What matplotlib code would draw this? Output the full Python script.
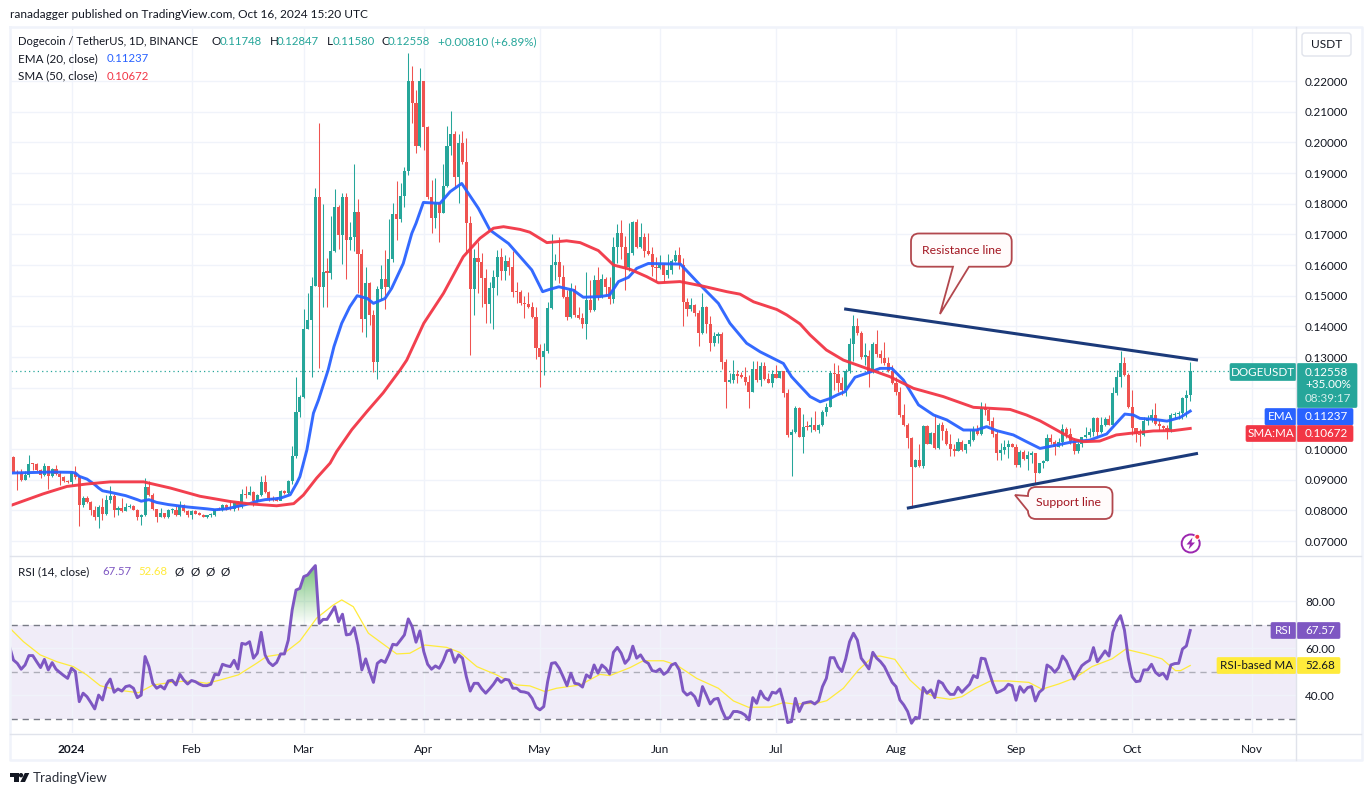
import numpy as np
import matplotlib
matplotlib.use("Agg")
import matplotlib.pyplot as plt
from matplotlib.patches import Polygon, PathPatch, FancyBboxPatch, Circle
from matplotlib.path import Path

plt.rcParams["font.family"] = "Lato"

# ---------------------------
# Data (first candle = 2023-12-17, day -15 from Jan 1)
# ---------------------------
FIRST_DAY = -15
FIRST_OPEN = 0.0973

closes = [
    .0925, .0921, .0900, .0916, .0952, .0951, .0932, .0914, .0945, .0911, .0936, .0918, .0909, .0897, .0893,
    .0922, .0908, .0818, .0840, .0826, .0802, .0780, .0811, .0789, .0833, .0846, .0800, .0809, .0798, .0811,
    .0815, .0802, .0780, .0786, .0876, .0850, .0804, .0780, .0791, .0777, .0800, .0802, .0786, .0818, .0797,
    .0786, .0797, .0789, .0786, .0780, .0785, .0786, .0804, .0802, .0817, .0808, .0804, .0827, .0811, .0854,
    .0851, .0861, .0830, .0850, .0893, .0859, .0840, .0835, .0832, .0862, .0856, .0895, .0976, .1120, .1171,
    .1393, .1421, .1533, .1823, .1529, .1576, .1575, .1646, .1790, .1698, .1821, .1681, .1692, .1772, .1635,
    .1423, .1543, .1437, .1285, .1521, .1554, .1527, .1619, .1766, .1751, .1825, .1906, .2200, .2129, .1989,
    .2200, .2049, .1823, .1752, .1801, .1771, .1858, .1988, .2027, .1888, .1999, .1937, .1738, .1523, .1622,
    .1611, .1559, .1473, .1524, .1562, .1627, .1582, .1614, .1594, .1513, .1511, .1475, .1473, .1462, .1431,
    .1330, .1301, .1320, .1459, .1600, .1611, .1560, .1497, .1432, .1521, .1437, .1426, .1408, .1486, .1453,
    .1551, .1495, .1553, .1529, .1488, .1660, .1703, .1660, .1592, .1638, .1741, .1658, .1692, .1647, .1636,
    .1592, .1589, .1600, .1567, .1584, .1612, .1633, .1600, .1480, .1457, .1469, .1445, .1377, .1462, .1408,
    .1345, .1369, .1374, .1283, .1220, .1224, .1245, .1239, .1236, .1220, .1187, .1260, .1225, .1271, .1228,
    .1216, .1245, .1232, .1254, .1184, .1046, .1054, .1135, .1040, .1073, .1072, .1078, .1062, .1078, .1122,
    .1138, .1249, .1245, .1214, .1192, .1255, .1342, .1401, .1377, .1301, .1303, .1252, .1342, .1310, .1296,
    .1279, .1255, .1216, .1187, .1111, .1078, .1035, .0942, .0964, .0946, .1075, .1018, .1051, .1002, .1078,
    .1060, .1018, .0999, .0995, .1024, .0997, .1015, .1029, .1062, .1049, .1133, .1127, .1092, .1049, .0988,
    .0997, .1006, .1018, .1008, .0948, .0991, .0966, .0980, .0986, .0923, .0953, .0961, .1035, .1024, .1008,
    .1024, .1065, .1049, .1026, .0995, .1018, .1038, .1046, .1057, .1100, .1057, .1078, .1097, .1080, .1182,
    .1234, .1282, .1241, .1138, .1067, .1049, .1046, .1092, .1100, .1111, .1082, .1075, .1067, .1062, .1111,
    .1114, .1116, .1165, .11748, .12558,
]
highs = [
    .0978, .0931, .0935, .0927, .0981, .0955, .0955, .0935, .0954, .0946, .0938, .0949, .0927, .0913, .0900,
    .0924, .0946, .0916, .0846, .0848, .0829, .0815, .0817, .0840, .0851, .0880, .0854, .0815, .0840, .0824,
    .0822, .0817, .0806, .0788, .0905, .0895, .0856, .0806, .0808, .0793, .0804, .0808, .0813, .0830, .0821,
    .0802, .0802, .0800, .0796, .0789, .0786, .0791, .0806, .0811, .0820, .0822, .0833, .0829, .0829, .0870,
    .0880, .0880, .0863, .0852, .0911, .0916, .0864, .0848, .0843, .0865, .0865, .0900, .1009, .1236, .1175,
    .1457, .1508, .1562, .1850, .2062, .1799, .1622, .1760, .1848, .1796, .1834, .1834, .1741, .1929, .1814,
    .1651, .1592, .1546, .1453, .1532, .1600, .1649, .1750, .1801, .1874, .1869, .1921, .2290, .2249, .2171,
    .2241, .2200, .2053, .1877, .1883, .1806, .1929, .2053, .2102, .2038, .2027, .2037, .2013, .1760, .1651,
    .1676, .1638, .1586, .1546, .1584, .1649, .1657, .1633, .1627, .1647, .1546, .1518, .1499, .1513, .1480,
    .1464, .1342, .1345, .1480, .1701, .1636, .1690, .1600, .1518, .1540, .1535, .1462, .1443, .1576, .1551,
    .1568, .1592, .1571, .1562, .1562, .1692, .1734, .1747, .1695, .1736, .1745, .1750, .1736, .1703, .1706,
    .1660, .1627, .1633, .1608, .1636, .1618, .1649, .1658, .1622, .1491, .1491, .1472, .1453, .1508, .1466,
    .1434, .1383, .1383, .1383, .1292, .1247, .1290, .1258, .1252, .1268, .1241, .1288, .1288, .1285, .1285,
    .1247, .1258, .1274, .1256, .1254, .1195, .1064, .1140, .1136, .1114, .1092, .1103, .1124, .1081, .1127,
    .1149, .1256, .1279, .1274, .1236, .1260, .1361, .1437, .1426, .1386, .1345, .1323, .1350, .1388, .1323,
    .1350, .1301, .1274, .1234, .1201, .1147, .1084, .1038, .0966, .1018, .1078, .1078, .1057, .1111, .1086,
    .1089, .1067, .1049, .1018, .1035, .1029, .1018, .1062, .1075, .1078, .1152, .1149, .1133, .1106, .1062,
    .1021, .1029, .1029, .1021, .1018, .0997, .0997, .0994, .0994, .0986, .0955, .0964, .1048, .1048, .1029,
    .1035, .1081, .1073, .1067, .1035, .1024, .1040, .1073, .1067, .1103, .1103, .1103, .1105, .1111, .1203,
    .1258, .1321, .1301, .1247, .1192, .1067, .1064, .1103, .1111, .1130, .1151, .1095, .1080, .1080, .1116,
    .1122, .1125, .1171, .1192, .12847,
]
lows = [
    .0925, .0865, .0895, .0898, .0909, .0932, .0930, .0905, .0913, .0871, .0909, .0916, .0884, .0893, .0889,
    .0884, .0902, .0750, .0811, .0824, .0784, .0769, .0741, .0769, .0786, .0824, .0780, .0786, .0796, .0798,
    .0809, .0800, .0769, .0751, .0783, .0848, .0802, .0761, .0778, .0775, .0775, .0791, .0783, .0783, .0795,
    .0780, .0773, .0787, .0784, .0778, .0775, .0780, .0783, .0801, .0797, .0802, .0802, .0797, .0800, .0808,
    .0840, .0850, .0815, .0828, .0848, .0856, .0829, .0832, .0829, .0835, .0852, .0854, .0887, .0970, .1105,
    .1168, .1392, .1236, .1533, .1263, .1462, .1464, .1556, .1642, .1652, .1603, .1553, .1649, .1647, .1508,
    .1383, .1366, .1403, .1252, .1227, .1486, .1455, .1524, .1611, .1681, .1741, .1790, .1893, .2064, .1964,
    .1986, .1975, .1814, .1703, .1722, .1676, .1769, .1855, .1959, .1855, .1803, .1931, .1638, .1306, .1437,
    .1508, .1464, .1412, .1410, .1392, .1502, .1551, .1551, .1567, .1497, .1475, .1469, .1426, .1459, .1426,
    .1292, .1203, .1241, .1312, .1457, .1551, .1542, .1491, .1421, .1426, .1432, .1423, .1394, .1359, .1448,
    .1451, .1486, .1491, .1502, .1473, .1475, .1605, .1619, .1518, .1582, .1633, .1654, .1654, .1625, .1633,
    .1564, .1549, .1587, .1546, .1559, .1571, .1609, .1587, .1401, .1434, .1451, .1434, .1336, .1374, .1377,
    .1321, .1336, .1347, .1260, .1135, .1216, .1216, .1216, .1231, .1209, .1135, .1185, .1220, .1207, .1225,
    .1214, .1203, .1231, .1231, .1171, .1040, .0912, .1051, .1038, .0988, .1062, .1057, .1060, .1051, .1075,
    .1109, .1136, .1192, .1187, .1176, .1173, .1247, .1288, .1372, .1292, .1274, .1201, .1247, .1299, .1282,
    .1274, .1252, .1212, .1176, .1103, .1075, .1002, .0807, .0940, .0942, .0937, .1016, .1016, .0999, .1000,
    .1029, .1013, .0977, .0977, .0994, .0994, .0988, .1010, .1026, .1046, .1046, .1111, .1078, .1040, .0964,
    .0964, .0984, .0970, .1006, .0940, .0942, .0964, .0931, .0953, .0888, .0921, .0937, .0961, .1018, .0980,
    .1006, .1010, .1035, .1018, .0984, .0988, .1008, .1035, .1040, .1042, .1042, .1053, .1076, .1078, .1071,
    .1176, .1203, .1239, .1133, .1046, .1024, .1011, .1042, .1078, .1089, .1079, .1062, .1062, .1032, .1057,
    .1100, .1097, .1097, .1103, .1158,
]

ema_days = [-15, -5, 0, 1, 2, 4, 6, 7, 8, 10, 14, 17, 18, 20, 22, 25, 30, 35, 37, 40, 44, 46, 48, 50, 52, 54,
            56.5, 58.2, 59, 60.8, 62.5, 63.8, 66.3, 67.8, 69.8, 71.9, 73.8, 76.4, 78, 81, 82.7, 85.7, 87.9, 89, 90.9,
            95.2, 97.8, 100.8, 102.5, 105.1, 108.1, 112.9, 115.9, 118.9, 121.7, 123.6, 125.9, 129.6, 132.2, 136.5,
            139, 141.3, 143.9, 146, 149, 157.3, 162, 167.1, 170.1, 174.4, 177.9, 183.9, 186, 188.2, 190.8, 193.4,
            196, 197.7, 199.8, 202.4, 205.4, 208.9, 211.9, 214.9, 218.8, 222.7, 226.1, 230.4, 233.8, 236.4, 239,
            243.3, 246.7, 250.2, 254.5, 258.8, 263, 267.4, 269.9, 272.1, 274.3, 276, 279.5, 283, 286.4, 289]
ema_vals = [.0922, .0925, .0924, .0922, .0911, .0902, .0884, .0873, .0864, .0859, .0848, .0835, .0830, .0835,
            .0826, .0819, .0811, .0805, .0802, .0805, .0816, .0822, .0830, .0835, .0837, .0840, .0851, .0889,
            .0910, .0997, .1117, .1160, .1258, .1334, .1410, .1464, .1500, .1491, .1475, .1491, .1524, .1605, .1703,
            .1736, .1804, .1801, .1839, .1866, .1834, .1785, .1714, .1670, .1627, .1584, .1513, .1521, .1529,
            .1518, .1495, .1497, .1502, .1546, .1560, .1589, .1605, .1603, .1540, .1475, .1410, .1345, .1317,
            .1279, .1236, .1206, .1171, .1154, .1165, .1176, .1187, .1234, .1247, .1263, .1263, .1225, .1144,
            .1111, .1095, .1062, .1062, .1073, .1060, .1046, .1024, .1002, .1013, .1024, .1029, .1049, .1084,
            .1114, .1111, .1100, .1097, .1091, .1103, .11237]

sma_days = [-15.7, -7.3, -1.2, 3.9, 10, 18.6, 25.5, 33.2, 41, 46.2, 53, 57.4, 59.9, 63.3, 66.8, 68.5, 72.4, 76.3, 80.5,
            84.9, 86.6, 91, 96.1, 101.2, 105.5, 109, 111.6, 115.9, 118.4, 122.8, 127.9, 131.4, 136.1, 140, 144.3, 148.6,
            151.6, 157.2, 162.8, 169.3, 172.7, 176.2, 182.2, 184.8, 188.2, 190.8, 195, 199.4, 205.4, 211.4, 217.5,
            225.2, 233, 242.5, 246.7, 250.2, 254.5, 258.8, 261.3, 265.6, 269.9, 273.3, 279.5, 284.6, 289]
sma_vals = [.0816, .0854, .0878, .0886, .0893, .0893, .0873, .0846, .0829, .0821, .0815, .0822, .0850, .0905,
            .0954, .0992, .1063, .1122, .1183, .1258, .1290, .1410, .1508, .1627, .1687, .1720, .1725, .1716, .1707, .1673,
            .1679, .1673, .1647, .1600, .1586, .1562, .1542, .1546, .1532, .1513, .1505, .1480, .1455, .1437,
            .1408, .1372, .1323, .1290, .1263, .1236, .1198, .1171, .1136, .1129, .1111, .1092, .1062, .1032,
            .1024, .1026, .1046, .1051, .1059, .1060, .10672]

rsi_vals = [
    60.7, 55.0, 53.6, 51.1, 52.9, 56.9, 56.9, 54.3, 51.8, 55.3, 50.8, 53.9, 51.1, 49.7, 48.4, 47.2,
    51.5, 50.1, 37.3, 40.9, 39.4, 36.9, 34.2, 40.1, 38.0, 44.4, 46.9, 41.3, 42.7, 41.8, 43.7, 44.1, 43.0, 39.0, 40.1,
    56.5, 52.2, 45.1, 43.0, 44.0, 42.7, 46.1, 46.4, 44.4, 48.9, 46.5, 44.8, 46.3, 45.8, 44.8, 44.1, 44.1, 44.7, 48.9,
    48.7, 53.2, 52.6, 52.2, 54.9, 51.2, 62.1, 61.7, 62.8, 55.8, 57.9, 66.8, 57.2, 54.0, 52.6, 54.0, 57.6, 57.6, 63.5,
    76.3, 84.8, 85.5, 90.5, 91.2, 93.3, 95.2, 70.6, 72.3, 72.3, 74.9, 77.7, 71.3, 74.5, 65.7, 66.0, 68.8, 61.4, 50.8,
    55.5, 50.1, 45.5, 53.6, 54.9, 54.0, 57.5, 61.7, 61.4, 63.5, 65.7, 72.5, 69.2, 62.6, 67.4, 58.6, 53.2, 51.1, 52.5,
    51.5, 54.6, 58.9, 59.3, 54.0, 57.2, 55.8, 47.9, 41.8, 45.1, 45.1, 42.7, 40.9, 42.7, 44.7, 47.2, 45.5, 46.8, 46.5,
    43.0, 43.0, 41.6, 41.4, 40.9, 38.7, 34.9, 33.8, 35.2, 45.8, 53.6, 53.9, 51.5, 47.9, 44.1, 49.4, 45.1, 44.8, 43.5,
    48.7, 47.5, 52.9, 49.4, 52.9, 51.5, 49.1, 58.3, 60.4, 57.9, 53.6, 55.5, 60.9, 55.8, 57.2, 54.6, 53.6, 50.5, 50.1,
    51.2, 48.9, 50.1, 52.9, 53.6, 50.8, 41.8, 40.1, 41.1, 39.4, 35.6, 43.7, 40.1, 36.3, 38.3, 38.7, 33.8, 30.2, 30.5,
    33.1, 33.1, 32.6, 31.6, 29.5, 39.0, 36.6, 41.8, 39.0, 38.0, 41.3, 40.9, 42.7, 36.6, 28.4, 28.8, 38.7, 33.1, 36.6,
    37.0, 37.3, 36.3, 37.7, 43.7, 47.2, 56.0, 56.0, 52.2, 50.1, 55.5, 62.8, 66.4, 63.5, 55.8, 53.6, 51.2, 58.3, 55.8,
    54.3, 52.2, 48.9, 45.5, 43.7, 38.0, 35.9, 33.1, 28.1, 30.6, 30.2, 43.3, 40.9, 42.3, 39.0, 46.1, 45.1, 42.3, 40.4,
    40.4, 43.4, 41.3, 43.0, 44.7, 48.4, 47.5, 55.8, 55.5, 50.1, 45.1, 41.1, 41.8, 42.7, 44.7, 44.1, 37.9, 43.7, 41.3,
    43.3, 43.7, 37.6, 41.3, 42.7, 52.9, 51.8, 49.8, 51.8, 56.7, 54.6, 50.8, 46.9, 49.8, 52.6, 53.9, 54.9, 60.3, 54.3,
    56.5, 58.9, 56.7, 66.8, 71.3, 73.9, 67.8, 55.8, 47.9, 45.8, 46.1, 50.8, 50.8, 53.2, 49.8, 48.4, 49.4, 46.9, 52.9,
    53.5, 53.6, 59.7, 61.0, 67.57,
]

rma_days = [-15.7, -12.4, -8.1, -3.8, 0.5, 3.9, 7.4, 11.7, 17.3, 21.1, 27.2, 31, 34.9, 38.4, 43.1, 47.8, 50.4, 54.7,
            59, 63.3, 67.6, 69.8, 72.8, 76.7, 84, 87.4, 91.3, 96.9, 100.4, 104.7, 109.8, 115, 118.4, 122.3, 125.3,
            131.4, 136.5, 139.1, 144.3, 147.7, 152.9, 156.3, 161.5, 167.1, 171, 174.9, 180.4, 183.9, 186.5, 192.5,
            195.1, 199.4, 203.3, 207.1, 208.9, 212.7, 216.6, 219.7, 223.2, 227, 230, 233.5, 237.4, 242.1, 247.3,
            250.7, 255, 259.3, 263.6, 268.8, 272.3, 277.4, 281.7, 285.2, 286.5, 289]
rma_vals = [68.2, 62.8, 57.2, 54.3, 52.2, 48.7, 44.1, 42.3, 41.1, 44.4, 45.8, 46.1, 45.1, 46.5, 48.7, 53.6, 56.5, 57.6,
            63.1, 72.8, 78.4, 80.6, 77.7, 66.4, 57.6, 57.9, 61.4, 60.4, 58.2, 52.2, 48.7, 44.4, 44.0, 41.6, 43.0,
            44.4, 48.9, 48.4, 51.8, 54.7, 54.7, 52.9, 47.2, 43.0, 37.6, 34.9, 35.0, 36.9, 36.3, 36.6,
            37.7, 43.0, 50.8, 56.5, 56.7, 55.3, 46.5, 41.8, 39.2, 38.3, 39.4, 43.0, 46.1, 46.1, 45.5,
            42.6, 44.8, 47.5, 52.2, 55.5, 59.6, 57.6, 55.5, 50.5, 50.5, 52.68]

resistance_days = [199.6, 291]
resistance_vals = [.1457, .1290]
support_days = [215.8, 291]
support_vals = [.0807, .0986]

price_ticks = [.07, .08, .09, .10, .11, .12, .13, .14, .15, .16, .17, .18, .19, .20, .21, .22]
hidden_price_ticks = [.11, .12]  # covered by the price tags in the original
rsi_ticks = [40, 60, 80]
month_days = [0, 31, 60, 91, 121, 152, 182, 213, 244, 274, 305]
month_labels = ["2024", "Feb", "Mar", "Apr", "May", "Jun", "Jul", "Aug", "Sep", "Oct", "Nov"]

# ---------------------------
# Colours
# ---------------------------
UP = "#26a69a"
DOWN = "#ef5350"
EMA_C = "#2962ff"
SMA_C = "#f23645"
RSI_C = "#7e57c2"
RMA_C = "#ffeb3b"
GRID = "#f0f3fa"
SEP = "#e0e3eb"
TXT = "#131722"
TREND = "#1b3a7a"
NOTE = "#a31621"

W, H = 1372, 796
fig = plt.figure(figsize=(W / 100, H / 100), dpi=100, facecolor="white")


def px_axes(x0, y0, x1, y1):
    return fig.add_axes([x0 / W, 1 - y1 / H, (x1 - x0) / W, (y1 - y0) / H])


ax = px_axes(10.5, 28, 1296.3, 555.5)
ax_rsi = px_axes(10.5, 556.5, 1296.3, 733.3)
XLIM = (-15.76, 316.4)

# ---------------------------
# Price pane
# ---------------------------
closes = np.array(closes)
opens = np.concatenate([[FIRST_OPEN], closes[:-1]])
days = np.arange(FIRST_DAY, FIRST_DAY + len(closes))
colors = [UP if c >= o else DOWN for o, c in zip(opens, closes)]

ax.vlines(days, lows, highs, colors=colors, lw=0.75, zorder=2)
body_h = np.maximum(np.abs(closes - opens), 0.0004)
ax.bar(days, body_h, bottom=np.minimum(opens, closes), width=0.8, color=colors, linewidth=0, zorder=3)

ax.plot(ema_days, ema_vals, color=EMA_C, lw=2.1, alpha=0.95, zorder=4, solid_joinstyle="round")
ax.plot(sma_days, sma_vals, color=SMA_C, lw=2.1, alpha=0.95, zorder=4, solid_joinstyle="round")
ax.plot(resistance_days, resistance_vals, color=TREND, lw=2.2, zorder=5, solid_capstyle="butt")
ax.plot(support_days, support_vals, color=TREND, lw=2.2, zorder=5, solid_capstyle="butt")
ax.axhline(closes[-1], color=UP, lw=0.9, ls=(0, (1, 2.5)), zorder=1)

ax.set_xlim(*XLIM)
ax.set_ylim(.22 - (555.5 - 81) / 3067, .22 + (81 - 28) / 3067)
ax.set_yticks(price_ticks)
ax.set_yticklabels(["" if p in hidden_price_ticks else f"{p:.5f}" for p in price_ticks])
ax.set_xticks(month_days)
ax.tick_params(axis="x", length=0, labelbottom=False)

# ---------------------------
# RSI pane
# ---------------------------
rsi_days = np.arange(FIRST_DAY - 1, FIRST_DAY - 1 + len(rsi_vals))
ax_rsi.axhspan(30, 70, color=RSI_C, alpha=0.11, lw=0, zorder=0)
for lvl, a in [(70, 1), (50, 0.55), (30, 1)]:
    ax_rsi.axhline(lvl, color="#787b86", lw=1, ls=(0, (4.5, 3.5)), alpha=a, zorder=1)

# green gradient where RSI is overbought
rsi_arr = np.array(rsi_vals)
top_days = rsi_days[(rsi_days >= 56) & (rsi_days <= 64)]
top_vals = rsi_arr[(rsi_days >= 56) & (rsi_days <= 64)]
grad = np.linspace(0, 1, 64).reshape(-1, 1)
rgba = np.zeros((64, 1, 4))
rgba[..., 0], rgba[..., 1], rgba[..., 2] = 0.30, 0.69, 0.31
rgba[..., 3] = 0.75 * grad
im = ax_rsi.imshow(rgba, extent=[56, 64, 70, 95.2], origin="lower", aspect="auto", zorder=1)
clip_pts = [(56.5, 70)] + [(d, max(v, 70)) for d, v in zip(top_days, top_vals) if d >= 57] + [(64, 70)]
clip = Polygon(clip_pts, closed=True, transform=ax_rsi.transData, fc="none", ec="none")
ax_rsi.add_patch(clip)
im.set_clip_path(clip)

ax_rsi.plot(rma_days, rma_vals, color=RMA_C, lw=0.9, zorder=3)
ax_rsi.plot(rsi_days, rsi_vals, color=RSI_C, lw=2.1, zorder=4, solid_joinstyle="round")
ax_rsi.set_xlim(*XLIM)
ax_rsi.set_ylim(80 - (733.3 - 601.3) / 2.35, 80 + (601.3 - 556.5) / 2.35)
ax_rsi.set_yticks(rsi_ticks)
ax_rsi.set_yticklabels([f"{v:.2f}" for v in rsi_ticks])
ax_rsi.set_xticks(month_days)
ax_rsi.set_xticklabels(month_labels)
ax_rsi.get_xticklabels()[0].set_fontweight("bold")

for a in (ax, ax_rsi):
    a.grid(True, color=GRID, lw=1)
    a.set_axisbelow(True)
    a.yaxis.tick_right()
    a.tick_params(axis="y", length=0, pad=6.2, labelsize=8.4, labelcolor=TXT)
    a.tick_params(axis="x", length=0, pad=7.5, labelsize=8.6, labelcolor=TXT)
    for s in a.spines.values():
        s.set_visible(False)
    for lab in a.get_yticklabels():
        lab.set_ha("left")

# ---------------------------
# Overlay in image pixels: frame, legends, tags, callouts
# ---------------------------
ov = fig.add_axes([0, 0, 1, 1], zorder=10)
ov.set_xlim(0, W)
ov.set_ylim(H, 0)
ov.axis("off")
ov.patch.set_alpha(0)

# frame
ov.plot([10, 1362, 1362, 10, 10], [27, 27, 760, 760, 27], color=GRID, lw=1.8)
ov.plot([10, 1361], [555.8, 555.8], color=SEP, lw=1)
ov.plot([10, 1361], [733.5, 733.5], color=SEP, lw=1)
ov.plot([1296.3, 1296.3], [27, 760], color=SEP, lw=1)


def t(x, y, s, color=TXT, size=8.4, ha="left", **kw):
    return ov.text(x, y, s, color=color, fontsize=size, ha=ha, va="center", **kw)


t(10, 15, "ranadagger published on TradingView.com, Oct 16, 2024 15:20 UTC", size=8.6)

t(18, 41.5, "Dogecoin / TetherUS, 1D, BINANCE", size=8.15)
for x, s, v, off in [(212, "O", "0.11748", 7.5), (269.5, "H", "0.12847", 7.5), (327, "L", "0.11580", 5.8), (381, "C", "0.12558", 6.6)]:
    t(x, 41.5, s, size=8.4)
    t(x + off, 41.5, v, color=UP, size=8.2)
t(438, 41.5, "+0.00810 (+6.89%)", color=UP, size=8.4)
t(18, 59, "EMA (20, close)", size=8.4)
t(107, 59, "0.11237", color=EMA_C, size=8.2)
t(18, 76, "SMA (50, close)", size=8.4)
t(107, 76, "0.10672", color=SMA_C, size=8.2)

t(18, 571.5, "RSI (14, close)", size=8.4)
t(102, 571.5, "67.57", color=RSI_C, size=8.2)
t(138, 571.5, "52.68", color=RMA_C, size=8.2)
for x in (179, 195, 210, 225):
    t(x, 571.5, "\u00d8", size=8.4, ha="center")

# USDT button
ov.add_patch(FancyBboxPatch((1302, 33), 49, 23, boxstyle="round,pad=0,rounding_size=3", fc="white", ec=SEP, lw=1))
t(1326.5, 44.5, "USDT", ha="center", size=8.6)


def tag(x0, y0, x1, y1, fc):
    ov.add_patch(FancyBboxPatch((x0, y0), x1 - x0, y1 - y0, boxstyle="round,pad=0,rounding_size=1.5",
                                fc=fc, ec=fc, lw=0.5))


tag(1230, 363.5, 1296, 380.5, UP)
t(1263, 372, "DOGEUSDT", color="white", ha="center")
tag(1297, 363.5, 1357, 407.5, UP)
t(1305, 372, "0.12558", color="white")
t(1305, 385, "+35.00%", color="white")
t(1305, 399, "08:39:17", color="#d4efec")
tag(1265, 408.5, 1296, 425, EMA_C)
t(1280.5, 416.5, "EMA", color="white", ha="center")
tag(1297, 408.5, 1353, 425, EMA_C)
t(1305, 416.5, "0.11237", color="white")
tag(1246, 425.5, 1296, 441.5, SMA_C)
t(1271, 433.5, "SMA:MA", color="white", ha="center")
tag(1297, 425.5, 1353, 441.5, SMA_C)
t(1305, 433.5, "0.10672", color="white")

tag(1271, 622.5, 1296, 638.5, RSI_C)
t(1283.5, 630.5, "RSI", color="white", ha="center")
tag(1297, 622.5, 1340, 638.5, RSI_C)
t(1305, 630.5, "67.57", color="white")
tag(1217, 657.5, 1296, 673.5, RMA_C)
t(1256.5, 665.5, "RSI-based MA", ha="center")
tag(1297, 657.5, 1340, 673.5, RMA_C)
t(1305, 665.5, "52.68")


def callout(x0, y0, x1, y1, tail, edge_side):
    # rounded box with a pointed tail on one edge
    r = 8
    v = [(x0 + r, y0), (x1 - r, y0), (x1, y0), (x1, y0 + r), (x1, y1 - r), (x1, y1), (x1 - r, y1)]
    c = [Path.MOVETO, Path.LINETO, Path.CURVE3, Path.CURVE3, Path.LINETO, Path.CURVE3, Path.CURVE3]
    if edge_side == "bottom":
        for p in tail:
            v.append(p)
            c.append(Path.LINETO)
    v += [(x0 + r, y1), (x0, y1), (x0, y1 - r)]
    c += [Path.LINETO, Path.CURVE3, Path.CURVE3]
    if edge_side == "left":
        for p in tail:
            v.append(p)
            c.append(Path.LINETO)
    v += [(x0, y0 + r), (x0, y0), (x0 + r, y0), (x0 + r, y0)]
    c += [Path.LINETO, Path.CURVE3, Path.CURVE3, Path.CLOSEPOLY]
    ov.add_patch(PathPatch(Path(v, c), fc="#fffbfb", ec="#b2474d", lw=1.3))


callout(911, 233.5, 1011.7, 266.7, [(969, 266.7), (940, 314), (953, 266.7)], "bottom")
t(961.5, 250, "Resistance line", color=NOTE, ha="center", size=8.8)
callout(1028, 487, 1112.5, 519, [(1028, 511), (1015, 495), (1028, 496)], "left")
t(1069, 503, "Support line", color=NOTE, ha="center", size=8.8)

# lightning badge
ov.add_patch(Circle((1190.7, 543.5), 9, fc="white", ec="#9c27b0", lw=1.4))
ov.add_patch(Polygon([(1192.5, 537.5), (1186.5, 544.5), (1190, 544.5), (1188.5, 549.5), (1195, 542.5), (1191.5, 542.5)],
                     closed=True, fc="#9c27b0", ec="none"))
ov.add_patch(Circle((1197.3, 536.8), 2.6, fc="#f23645", ec="white", lw=0.8))

# TradingView logo
ov.add_patch(Polygon([(10, 773), (18.5, 773), (18.5, 782), (14, 782), (14, 777.3), (10, 777.3)], closed=True, fc=TXT, ec="none"))
ov.add_patch(Circle((21, 775.2), 2.2, fc=TXT, ec="none"))
ov.add_patch(Polygon([(24.8, 773), (29.3, 773), (25, 782), (20.3, 782)], closed=True, fc=TXT, ec="none"))
t(33, 778, "TradingView", color="#2a2e39", size=9.6)

fig.savefig("out.png", dpi=100)
